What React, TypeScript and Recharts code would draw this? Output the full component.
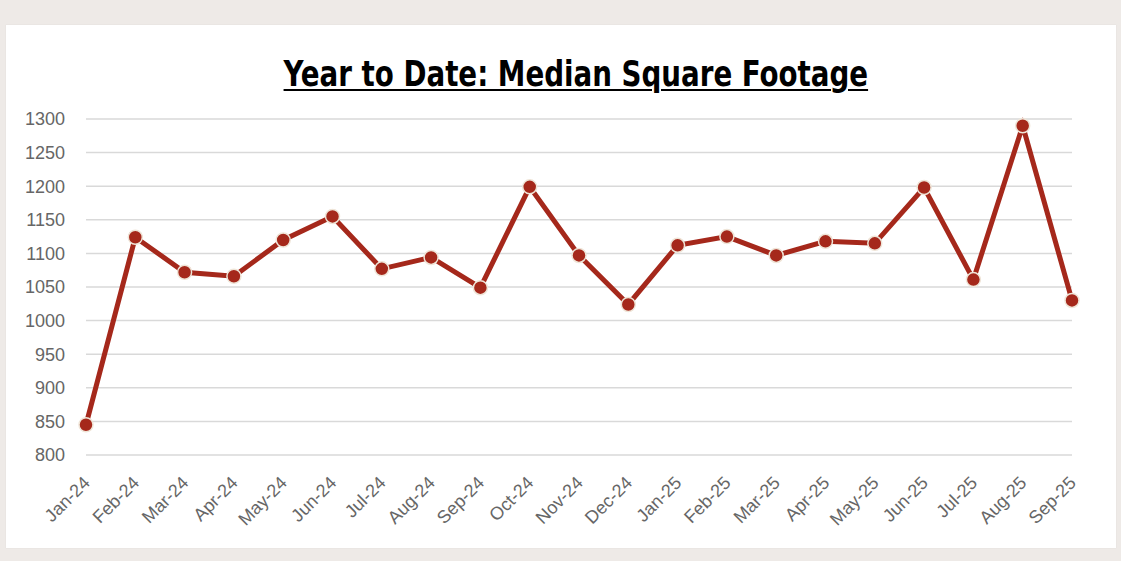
import React from "react";
import { LineChart, Line, XAxis, YAxis, CartesianGrid } from "recharts";

const months = [
  "Jan-24", "Feb-24", "Mar-24", "Apr-24", "May-24", "Jun-24", "Jul-24",
  "Aug-24", "Sep-24", "Oct-24", "Nov-24", "Dec-24", "Jan-25", "Feb-25",
  "Mar-25", "Apr-25", "May-25", "Jun-25", "Jul-25", "Aug-25", "Sep-25",
];

const medianSqFt = [
  845, 1124, 1072, 1066, 1120, 1155, 1077, 1094, 1049, 1199, 1097,
  1024, 1112, 1125, 1097, 1118, 1115, 1198, 1061, 1290, 1030,
];

const yTicks = [800, 850, 900, 950, 1000, 1050, 1100, 1150, 1200, 1250, 1300];

const data = months.map((m, i) => ({ month: m, value: medianSqFt[i] }));

const LABEL_COLOR = "#666666";
const FONT = "'Liberation Sans', Arial, sans-serif";

const XTick = (props: any) => {
  const { x, y, payload } = props;
  const ax = x + 5;
  const ay = y + 21;
  return (
    <text
      x={ax}
      y={ay}
      textAnchor="end"
      fill={LABEL_COLOR}
      fontSize={18}
      fontFamily={FONT}
      transform={`rotate(-45 ${ax} ${ay})`}
    >
      {payload.value}
    </text>
  );
};

export default function App() {
  return (
    <div
      style={{
        position: "absolute",
        left: 0,
        top: 0,
        width: 1121,
        height: 561,
        background: "#eeeae7",
        overflow: "hidden",
      }}
    >
      <div
        style={{
          position: "absolute",
          left: 6,
          top: 25,
          width: 1110,
          height: 523,
          background: "#ffffff",
          boxShadow: "0 0 1px #d6d2ce",
        }}
      >
        <div
          style={{
            position: "absolute",
            left: 77,
            top: 31,
            width: 986,
            textAlign: "center",
            zIndex: 2,
          }}
        >
          <span
            style={{
              display: "inline-block",
              transform: "scaleX(0.855)",
              transformOrigin: "center",
              fontFamily: "'DejaVu Sans Condensed', 'DejaVu Sans', sans-serif",
              fontWeight: 700,
              fontStretch: "condensed",
              fontSize: 36,
              lineHeight: "36px",
              color: "#000",
              textDecoration: "underline",
              textDecorationThickness: 2,
              textUnderlineOffset: 3,
              whiteSpace: "nowrap",
            }}
          >
            Year to Date: Median Square Footage
          </span>
        </div>
        <LineChart
          width={1110}
          height={523}
          data={data}
          margin={{ top: 94, right: 44, left: 20, bottom: 0 }}
        >
          <CartesianGrid vertical={false} stroke="#d9d9d9" strokeWidth={1.5} />
          <XAxis
            dataKey="month"
            axisLine={false}
            tickLine={false}
            interval={0}
            height={93}
            tick={<XTick />}
          />
          <YAxis
            domain={[800, 1300]}
            ticks={yTicks}
            interval={0}
            axisLine={false}
            tickLine={false}
            width={60}
            tickMargin={15}
            tick={{ fill: LABEL_COLOR, fontSize: 18, fontFamily: FONT }}
          />
          <Line
            type="linear"
            dataKey="value"
            stroke="#a5281b"
            strokeWidth={5}
            isAnimationActive={false}
            dot={{ r: 7, fill: "#a5281b", stroke: "#efe5d8", strokeWidth: 1.5 }}
            activeDot={false}
          />
        </LineChart>
      </div>
    </div>
  );
}
